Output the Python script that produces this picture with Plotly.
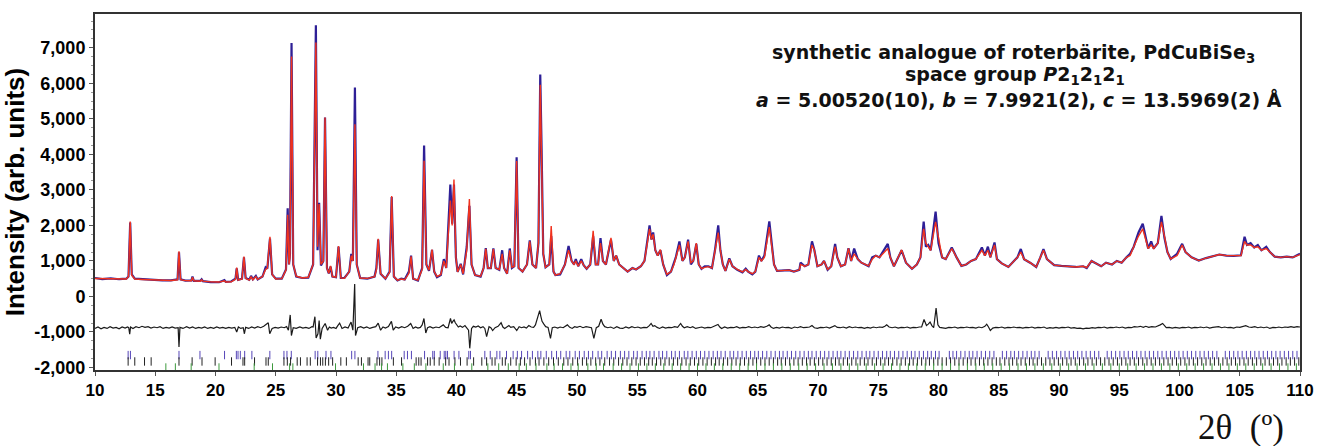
import plotly.graph_objects as go

# ---------------- data ----------------
tth = [10.0, 10.6, 11.3, 12.0, 12.6, 12.78, 12.92, 13.05, 13.3, 14.0, 14.8, 15.6, 16.3, 16.85, 16.97, 17.1,
       17.5, 18.0, 18.09, 18.2, 18.75, 18.85, 18.95, 19.6, 20.3, 20.74, 20.85, 21.3, 21.66, 21.76, 21.88,
       22.2, 22.36, 22.5, 22.8, 22.95, 23.1, 23.35, 23.5, 23.9, 24.16, 24.3, 24.52, 24.7, 25.0, 25.5,
       25.85, 25.99, 26.1, 26.18, 26.31, 26.45, 26.7, 27.2, 27.7, 28.1, 28.33, 28.47, 28.6, 28.75, 28.95,
       29.09, 29.25, 29.4, 29.55, 29.7, 30.0, 30.21, 30.4, 30.7, 31.1, 31.27, 31.4, 31.57, 31.72, 32.0,
       32.6, 33.2, 33.35, 33.5, 33.7, 34.1, 34.45, 34.62, 34.8, 35.1, 35.41, 35.7, 36.05, 36.23, 36.4,
       36.8, 37.15, 37.31, 37.5, 37.72, 37.97, 38.15, 38.38, 38.7, 38.95, 39.15, 39.49, 39.64, 39.79,
       39.95, 40.09, 40.35, 40.55, 40.85, 41.07, 41.25, 41.54, 42.0, 42.25, 42.43, 42.6, 42.85, 43.06,
       43.25, 43.55, 43.79, 43.95, 44.2, 44.42, 44.6, 44.8, 44.99, 45.15, 45.48, 45.85, 46.08, 46.3,
       46.6, 46.8, 46.95, 47.05, 47.2, 47.39, 47.7, 47.86, 48.05, 48.21, 48.6, 49.0, 49.3, 49.55, 49.75,
       49.9, 50.1, 50.35, 50.55, 50.8, 51.1, 51.34, 51.55, 51.75, 51.95, 52.15, 52.4, 52.82, 53.05, 53.25,
       53.5, 54.2, 54.6, 54.9, 55.3, 55.6, 56.02, 56.18, 56.32, 56.5, 56.7, 56.92, 57.15, 57.46, 57.8,
       58.05, 58.2, 58.5, 58.75, 58.95, 59.22, 59.45, 59.65, 59.9, 60.1, 60.33, 60.6, 60.9, 61.2, 61.45,
       61.72, 61.9, 62.1, 62.32, 62.64, 62.9, 63.3, 63.73, 64.0, 64.2, 64.55, 64.8, 65.1, 65.3, 65.55,
       65.96, 66.15, 66.35, 66.6, 67.2, 67.6, 68.0, 68.45, 68.55, 68.9, 69.2, 69.5, 69.7, 69.95, 70.3,
       70.5, 70.8, 71.1, 71.42, 71.6, 71.9, 72.25, 72.53, 72.75, 73.0, 73.3, 73.6, 73.9, 74.2, 74.5,
       74.8, 75.1, 75.4, 75.79, 76.0, 76.3, 76.94, 77.3, 77.8, 78.2, 78.5, 78.77, 78.95, 79.15, 79.35,
       79.76, 80.0, 80.3, 80.6, 81.1, 81.5, 81.9, 82.3, 82.7, 83.1, 83.4, 83.6, 83.85, 84.1, 84.3,
       84.65, 84.85, 85.25, 85.8, 86.3, 86.55, 86.83, 87.1, 87.6, 88.11, 88.45, 88.71, 89.0, 89.6, 90.2,
       90.8, 91.4, 92.0, 92.3, 92.7, 93.0, 93.5, 93.9, 94.4, 94.8, 95.2, 95.6, 95.9, 96.2, 96.6,
       96.95, 97.2, 97.4, 97.65, 97.85, 98.2, 98.5, 98.75, 99.0, 99.27, 99.8, 100.22, 100.5, 101.0,
       101.6, 102.2, 102.8, 103.3, 103.9, 104.5, 105.1, 105.4, 105.6, 105.9, 106.2, 106.5, 106.8,
       107.2, 107.5, 107.9, 108.4, 108.9, 109.4, 110.0]

obs = [520, 490, 510, 485, 500, 560, 2080, 620, 500, 480, 470, 450, 455, 480, 1240, 480,
       445, 450, 560, 440, 440, 480, 430, 405, 400, 460, 410, 420, 500, 790, 470,
       500, 1100, 520, 470, 580, 480, 580, 480, 560, 820, 780, 1630, 620, 500, 500,
       760, 2480, 900, 1200, 7130, 900, 560, 520, 530, 900, 7630, 1300, 2640, 870, 1000,
       5040, 800, 650, 840, 560, 540, 1400, 520, 520, 700, 1200, 1000, 5880, 900, 520,
       500, 560, 800, 1600, 640, 500, 700, 2800, 560, 450, 500, 480, 700, 1150, 500,
       450, 800, 4250, 900, 720, 1310, 700, 540, 600, 1050, 800, 3150, 2050, 3150,
       1100, 690, 920, 620, 1400, 2550, 900, 600, 560, 800, 1360, 800, 800, 1350,
       800, 750, 1300, 800, 640, 1350, 800, 850, 3920, 800, 700, 900, 1580, 900,
       800, 1500, 6250, 4400, 1200, 820, 900, 1700, 700, 600, 620, 900, 1420, 1000, 900,
       1050, 850, 1050, 880, 780, 900, 1700, 900, 900, 1640, 1000, 900, 1600, 1000, 1150,
       900, 700, 800, 760, 850, 1000, 2000, 1600, 1800, 1300, 1150, 1300, 900, 600, 700,
       950, 1100, 1550, 1000, 1100, 1600, 900, 1000, 1480, 900, 775, 850, 850, 800, 1300,
       2000, 1300, 900, 720, 1070, 850, 750, 680, 780, 700, 620, 700, 1150, 1000, 1150,
       2110, 1500, 900, 720, 740, 740, 700, 750, 950, 850, 900, 1550, 1300, 850, 900,
       1000, 750, 850, 1480, 1100, 850, 900, 1360, 1000, 1350, 1050, 950, 900, 850, 1100,
       1150, 1100, 1250, 1480, 1100, 850, 1300, 950, 780, 900, 1100, 2110, 1400, 1450, 1300,
       2390, 1500, 1100, 1050, 1380, 1100, 860, 900, 1000, 1050, 1250, 1380, 1150, 1400, 1100,
       1520, 1050, 930, 830, 1000, 1100, 1335, 1050, 950, 830, 1100, 1335, 1050, 880, 860,
       850, 830, 850, 800, 1000, 950, 850, 950, 900, 1000, 950, 1100, 1200, 1400, 1800,
       2050, 1600, 1350, 1550, 1350, 1500, 2270, 1650, 1250, 1055, 1200, 1480, 1250, 1100,
       1010, 1080, 1140, 1180, 1150, 1140, 1160, 1680, 1450, 1500, 1380, 1450, 1300,
       1400, 1250, 1120, 1100, 1120, 1100, 1200]

calc = [505, 500, 495, 490, 490, 560, 2110, 600, 490, 478, 470, 460, 450, 470, 1270, 470,
        445, 440, 540, 440, 430, 470, 430, 410, 405, 440, 405, 410, 480, 810, 460,
        490, 1120, 510, 460, 560, 470, 560, 480, 560, 760, 800, 1680, 620, 490, 500,
        740, 2300, 900, 1100, 6750, 900, 570, 520, 540, 900, 7150, 1400, 2600, 900, 1000,
        5040, 800, 650, 860, 560, 540, 1420, 520, 510, 700, 1150, 1000, 4850, 900, 520,
        510, 560, 750, 1620, 650, 500, 680, 2830, 560, 460, 490, 470, 650, 1130, 500,
        460, 760, 3820, 900, 740, 1320, 700, 560, 620, 1000, 800, 2700, 2000, 3290,
        1100, 690, 900, 640, 1300, 2740, 900, 600, 570, 800, 1340, 800, 800, 1330,
        800, 760, 1200, 800, 640, 1300, 820, 850, 3810, 800, 700, 900, 1550, 900,
        800, 1500, 5960, 3500, 1200, 820, 900, 1980, 700, 600, 640, 900, 1300, 1000, 900,
        1000, 850, 1000, 880, 780, 900, 1850, 900, 900, 1500, 1000, 900, 1650, 1000, 1150,
        900, 700, 800, 760, 850, 1000, 1900, 1600, 1750, 1300, 1150, 1320, 900, 620, 700,
        900, 1100, 1450, 1000, 1100, 1550, 950, 1000, 1500, 900, 780, 820, 840, 800, 1300,
        1800, 1300, 900, 720, 1050, 850, 760, 690, 760, 700, 640, 700, 1100, 1000, 1100,
        1950, 1500, 900, 720, 740, 740, 700, 750, 900, 850, 900, 1450, 1300, 850, 900,
        1000, 760, 850, 1400, 1100, 850, 900, 1350, 1000, 1200, 1050, 950, 900, 860, 1050,
        1150, 1100, 1200, 1350, 1100, 850, 1310, 950, 780, 900, 1100, 1900, 1500, 1400, 1300,
        2100, 1600, 1100, 1050, 1350, 1100, 860, 900, 1000, 1050, 1200, 1300, 1150, 1300, 1100,
        1450, 1050, 930, 830, 1000, 1100, 1250, 1050, 950, 830, 1100, 1300, 1050, 880, 860,
        850, 830, 850, 810, 1000, 950, 850, 950, 900, 1000, 950, 1100, 1150, 1400, 1700,
        1900, 1600, 1350, 1450, 1350, 1500, 2100, 1700, 1250, 1055, 1150, 1450, 1250, 1100,
        1010, 1080, 1140, 1180, 1150, 1140, 1150, 1550, 1450, 1450, 1380, 1400, 1300,
        1350, 1250, 1120, 1100, 1120, 1100, 1180]

# difference curve (2theta, value) pairs
diff_points = [
    (10.0, -900), (10.25, -860), (10.5, -910), (10.75, -870), (11.0, -900), (11.25, -850), (11.5, -890),
    (11.75, -870), (12.0, -910), (12.25, -860), (12.5, -890), (12.7, -860), (12.8, -880), (12.88, -1060),
    (12.95, -860), (13.15, -900), (13.4, -850), (13.65, -880), (13.9, -840), (14.15, -870), (14.4, -850),
    (14.65, -890), (14.9, -860), (15.15, -880), (15.4, -850), (15.65, -900), (15.9, -870), (16.15, -890),
    (16.4, -860), (16.65, -890), (16.9, -880), (16.97, -1420), (17.05, -870), (17.3, -900), (17.6, -850),
    (17.85, -890), (18.1, -860), (18.35, -900), (18.6, -870), (18.85, -890), (19.1, -860), (19.35, -900),
    (19.6, -870), (19.85, -895), (20.1, -860), (20.35, -890), (20.6, -870), (20.85, -900), (21.1, -870),
    (21.35, -890), (21.6, -870), (21.76, -1000), (21.9, -860), (22.1, -900), (22.3, -880), (22.4, -1050),
    (22.5, -870), (22.75, -900), (23.0, -860), (23.25, -890), (23.5, -850), (23.75, -880), (24.0, -840),
    (24.2, -800), (24.38, -740), (24.5, -1050), (24.7, -900), (24.95, -870), (25.2, -890), (25.45, -860),
    (25.7, -880), (25.9, -850), (26.05, -950), (26.2, -520), (26.3, -1100), (26.45, -880), (26.7, -900),
    (27.0, -860), (27.25, -890), (27.5, -870), (27.75, -900), (28.0, -850), (28.1, -860), (28.25, -570),
    (28.35, -1170), (28.5, -1050), (28.6, -680), (28.7, -1200), (28.85, -900), (29.1, -760), (29.3, -950),
    (29.45, -860), (29.6, -890), (29.8, -870), (30.0, -900), (30.15, -820), (30.3, -750), (30.5, -900),
    (30.75, -860), (31.0, -890), (31.25, -720), (31.4, -950), (31.55, 350), (31.62, -1100), (31.8, -880),
    (32.05, -850), (32.3, -890), (32.55, -860), (32.8, -900), (33.05, -870), (33.3, -850), (33.5, -750),
    (33.7, -950), (33.9, -860), (34.1, -890), (34.35, -850), (34.6, -700), (34.75, -950), (34.95, -860),
    (35.2, -890), (35.45, -850), (35.7, -880), (35.95, -840), (36.2, -760), (36.4, -900), (36.6, -860),
    (36.8, -890), (37.0, -870), (37.15, -800), (37.3, -620), (37.45, -1030), (37.6, -880), (37.8, -850),
    (38.05, -890), (38.3, -860), (38.55, -880), (38.75, -840), (38.9, -800), (39.1, -870), (39.3, -880),
    (39.5, -620), (39.6, -760), (39.7, -700), (39.8, -660), (39.9, -740), (40.0, -800), (40.15, -860),
    (40.3, -830), (40.5, -870), (40.7, -820), (40.85, -880), (41.0, -950), (41.1, -1460), (41.25, -900),
    (41.4, -840), (41.6, -860), (41.8, -830), (42.0, -880), (42.2, -850), (42.35, -900), (42.5, -1130),
    (42.7, -850), (42.85, -880), (43.0, -960), (43.2, -880), (43.45, -840), (43.7, -740), (43.85, -860),
    (44.0, -900), (44.2, -860), (44.35, -820), (44.5, -870), (44.75, -850), (45.0, -960), (45.2, -850),
    (45.4, -880), (45.6, -860), (45.8, -890), (46.0, -820), (46.2, -860), (46.4, -870), (46.55, -800),
    (46.7, -640), (46.9, -400), (47.0, -560), (47.1, -700), (47.25, -780), (47.4, -850), (47.6, -870),
    (47.8, -1180), (47.95, -880), (48.15, -860), (48.4, -890), (48.6, -860), (48.85, -880), (49.05, -840),
    (49.2, -800), (49.4, -870), (49.6, -900), (49.8, -850), (50.0, -870), (50.25, -840), (50.5, -880),
    (50.75, -850), (51.0, -860), (51.2, -880), (51.4, -1180), (51.6, -880), (51.8, -840), (52.0, -640),
    (52.15, -780), (52.3, -850), (52.55, -880), (52.8, -860), (53.05, -900), (53.3, -850), (53.55, -890),
    (53.8, -900), (54.05, -860), (54.3, -890), (54.55, -850), (54.8, -880), (55.05, -860), (55.3, -890),
    (55.55, -870), (55.8, -880), (56.0, -820), (56.15, -760), (56.3, -840), (56.45, -820), (56.65, -870),
    (56.85, -900), (57.1, -860), (57.35, -890), (57.6, -870), (57.85, -880), (58.1, -850), (58.35, -870),
    (58.6, -760), (58.75, -840), (58.9, -880), (59.15, -850), (59.4, -880), (59.6, -850), (59.85, -900),
    (60.1, -880), (60.35, -860), (60.6, -890), (60.85, -870), (61.1, -880), (61.35, -850), (61.55, -820),
    (61.7, -790), (61.85, -860), (62.0, -900), (62.25, -860), (62.5, -890), (62.75, -870), (63.0, -880),
    (63.25, -850), (63.5, -890), (63.75, -870), (64.0, -880), (64.25, -850), (64.5, -880), (64.75, -860),
    (65.0, -880), (65.25, -850), (65.5, -870), (65.75, -840), (65.95, -800), (66.1, -860), (66.3, -900),
    (66.55, -870), (66.8, -890), (67.05, -860), (67.3, -880), (67.55, -870), (67.8, -900), (68.05, -860),
    (68.3, -880), (68.55, -850), (68.8, -880), (69.05, -870), (69.3, -860), (69.5, -820), (69.7, -880),
    (69.95, -900), (70.2, -870), (70.45, -880), (70.7, -860), (70.95, -890), (71.2, -850), (71.4, -820),
    (71.6, -870), (71.85, -880), (72.1, -860), (72.35, -890), (72.6, -850), (72.85, -880), (73.1, -860),
    (73.35, -880), (73.6, -870), (73.85, -900), (74.1, -870), (74.35, -890), (74.6, -860), (74.85, -880),
    (75.1, -860), (75.35, -870), (75.55, -840), (75.7, -800), (75.9, -860), (76.15, -880), (76.4, -860),
    (76.65, -890), (76.9, -870), (77.15, -880), (77.4, -860), (77.65, -890), (77.9, -870), (78.15, -880),
    (78.4, -860), (78.6, -860), (78.8, -650), (79.0, -820), (79.15, -780), (79.3, -720), (79.45, -820),
    (79.6, -880), (79.8, -330), (79.95, -800), (80.1, -870), (80.35, -880), (80.6, -900), (80.85, -870),
    (81.1, -880), (81.35, -860), (81.6, -890), (81.85, -870), (82.1, -880), (82.35, -860), (82.6, -880),
    (82.85, -870), (83.1, -890), (83.35, -860), (83.6, -880), (83.85, -840), (84.0, -780), (84.15, -860),
    (84.3, -960), (84.5, -890), (84.75, -870), (85.0, -880), (85.25, -860), (85.5, -890), (85.75, -870),
    (86.0, -880), (86.25, -860), (86.5, -880), (86.75, -870), (87.0, -890), (87.25, -870), (87.5, -880),
    (87.75, -860), (88.0, -890), (88.25, -870), (88.5, -880), (88.75, -860), (89.0, -900), (89.25, -880),
    (89.5, -890), (89.75, -870), (90.0, -890), (90.25, -870), (90.5, -880), (90.75, -860), (91.0, -890),
    (91.25, -880), (91.5, -900), (91.75, -890), (92.0, -910), (92.25, -890), (92.5, -900), (92.75, -880),
    (93.0, -890), (93.25, -870), (93.5, -880), (93.75, -860), (94.0, -890), (94.25, -870), (94.5, -880),
    (94.75, -860), (95.0, -880), (95.25, -860), (95.5, -890), (95.75, -870), (96.0, -880), (96.25, -850),
    (96.5, -860), (96.75, -840), (97.0, -870), (97.2, -840), (97.45, -870), (97.7, -850), (98.0, -860),
    (98.2, -840), (98.4, -800), (98.6, -760), (98.75, -820), (98.9, -880), (99.15, -870), (99.4, -890),
    (99.65, -870), (100.0, -890), (100.25, -870), (100.5, -880), (100.75, -860), (101.0, -890),
    (101.25, -870), (101.5, -880), (101.75, -860), (102.0, -880), (102.25, -860), (102.5, -890),
    (102.75, -870), (103.0, -870), (103.25, -850), (103.5, -880), (103.75, -860), (104.0, -880),
    (104.25, -870), (104.5, -890), (104.75, -860), (105.0, -870), (105.25, -850), (105.5, -820),
    (105.75, -860), (106.0, -870), (106.25, -850), (106.5, -880), (106.75, -860), (107.0, -880),
    (107.25, -860), (107.5, -900), (107.75, -870), (108.0, -880), (108.25, -860), (108.5, -880),
    (108.75, -860), (109.0, -870), (109.25, -850), (109.5, -870), (109.75, -850), (110.0, -860)]

ticks_phase1 = [12.75, 12.94, 16.97, 18.71, 20.75, 21.73, 21.87, 22.06, 22.42, 23.02, 24.51, 25.68, 25.93,
                26.29, 28.27, 28.49, 29.17, 29.58, 31.30, 31.57, 33.48, 34.08, 34.35, 34.62, 35.66, 35.93,
                36.26, 37.35, 38.03, 38.16, 38.65, 38.98, 39.11, 39.25, 39.8, 40.2, 41.02, 41.16,
                42.35, 42.8, 43.35, 43.6, 44.15, 44.7, 45.05, 45.4, 45.9, 46.3, 46.75, 47.0, 47.45, 47.9,
                48.3, 48.65, 49.1, 49.4, 49.85, 50.2, 50.6, 50.95, 51.3, 51.75, 52.05, 52.5, 52.85, 53.2,
                53.6, 53.95, 54.3, 54.7, 55.0, 55.4, 55.75, 56.05, 56.4, 56.8, 57.1, 57.45, 57.85, 58.15,
                58.5, 58.9, 59.2, 59.55, 59.9, 60.25, 60.6, 60.95, 61.3, 61.65, 61.95, 62.3, 62.7, 63.0,
                63.35, 63.7, 64.05, 64.4, 64.75, 65.05, 65.4, 65.75, 66.1, 66.45, 66.8, 67.1, 67.45, 67.8,
                68.15, 68.5, 68.85, 69.2, 69.5, 69.85, 70.2, 70.55, 70.9, 71.25, 71.6, 71.9, 72.25, 72.6,
                72.95, 73.3, 73.65, 74.0, 74.3, 74.65, 75.0, 75.35, 75.7, 76.0, 76.35, 76.7, 77.05, 77.4,
                77.75, 78.05, 78.4, 78.75, 79.1, 79.4, 79.75, 80.05, 80.9, 81.2, 81.5, 81.85, 82.2, 82.55,
                82.85, 83.2, 83.55, 83.9, 84.25, 84.6, 85.3, 85.65, 86.0, 86.3, 86.65, 87.0, 87.35, 87.7,
                88.0, 88.35, 89.1, 89.45, 89.8, 90.15, 90.5, 90.85, 91.2, 91.55, 91.9, 92.25, 92.6, 92.95,
                93.3, 94.0, 94.35, 94.7, 95.05, 95.4, 95.75, 96.1, 96.45, 96.8, 97.15, 97.5, 97.85, 98.2,
                98.55, 98.9, 99.25, 99.6, 99.95, 100.3, 100.65, 101.0, 101.35, 101.7, 102.05, 102.4,
                102.75, 103.1, 103.8, 104.15, 104.5, 104.85, 105.2, 105.55, 105.9, 106.25, 106.6, 106.95,
                107.3, 107.65, 108.0, 108.35, 108.7, 109.05, 109.4, 109.75]

ticks_phase2 = [12.75, 13.3, 14.11, 14.66, 16.97, 18.06, 18.88, 19.97, 21.33, 22.28, 22.42, 23.24, 24.19,
                24.38, 25.68, 25.96, 26.23, 26.78, 27.05, 27.6, 27.87, 28.47, 28.71, 28.9, 29.12, 29.39,
                29.72, 30.4, 30.86, 31.84, 32.11, 32.66, 32.8, 33.4, 33.62, 33.81, 34.76, 35.44, 36.65,
                36.87, 37.06, 37.6, 37.82, 38.15, 38.56, 39.1, 39.38, 39.87, 40.33, 40.88, 41.42,
                42.1, 42.5, 42.95, 43.2, 43.8, 44.05, 44.5, 44.95, 45.3, 45.65, 46.1, 46.55, 46.85, 47.25,
                47.65, 48.05, 48.45, 48.9, 49.25, 49.65, 50.05, 50.45, 50.8, 51.15, 51.55, 51.9, 52.3, 52.7,
                53.05, 53.45, 53.8, 54.15, 54.55, 54.9, 55.25, 55.6, 55.95, 56.25, 56.6, 56.95, 57.3, 57.65,
                58.0, 58.35, 58.7, 59.05, 59.4, 59.75, 60.1, 60.45, 60.8, 61.15, 61.5, 61.8, 62.15, 62.5,
                62.85, 63.2, 63.55, 63.9, 64.25, 64.6, 64.9, 65.25, 65.6, 65.95, 66.3, 66.65, 66.95, 67.3,
                67.65, 68.0, 68.35, 68.7, 69.05, 69.35, 69.7, 70.05, 70.4, 70.75, 71.1, 71.45, 71.75, 72.1,
                72.45, 72.8, 73.15, 73.5, 73.85, 74.15, 74.5, 74.85, 75.2, 75.55, 75.85, 76.2, 76.55, 76.9,
                77.25, 77.6, 77.9, 78.25, 78.6, 78.95, 79.25, 79.6, 79.95, 80.3, 80.65, 81.0, 81.35, 81.7,
                82.05, 82.4, 82.7, 83.05, 83.4, 83.75, 84.1, 84.45, 84.8, 85.1, 85.5, 85.85, 86.15, 86.5,
                86.85, 87.2, 87.55, 87.85, 88.2, 88.55, 88.9, 89.25, 89.6, 89.95, 90.3, 90.65, 91.0, 91.35,
                91.7, 92.05, 92.4, 92.75, 93.1, 93.45, 93.8, 94.15, 94.5, 94.85, 95.2, 95.55, 95.9, 96.25,
                96.6, 96.95, 97.3, 97.65, 98.0, 98.35, 98.7, 99.05, 99.4, 99.75, 100.1, 100.45, 100.8,
                101.15, 101.5, 101.85, 102.2, 102.55, 102.9, 103.25, 103.6, 103.95, 104.3, 104.65, 105.0,
                105.35, 105.7, 106.05, 106.4, 106.75, 107.1, 107.45, 107.8, 108.15, 108.5, 108.85, 109.2,
                109.55, 109.9]

ticks_phase3 = [15.88, 16.67, 17.98, 20.29, 23.21, 24.73, 26.15, 26.42, 29.96, 32.28, 33.24, 33.78, 34.27,
                35.55, 36.5, 37.46, 38.9, 39.83, 41.27,
                42.6, 43.5, 44.3, 45.2, 45.8, 46.6, 47.5, 48.1, 48.8, 49.5, 50.1, 50.9, 51.6, 52.2, 53.0,
                53.7, 54.4, 55.1, 55.8, 56.5, 57.2, 57.9, 58.6, 59.3, 60.0, 60.7, 61.4, 62.1, 62.8, 63.5,
                64.2, 64.9, 65.6, 66.3, 67.0, 67.7, 68.4, 69.1, 69.8, 70.5, 71.2, 71.9, 72.6, 73.3, 74.0,
                74.7, 75.4, 76.1, 76.8, 77.5, 78.2, 78.9, 79.6, 80.3, 81.0, 81.7, 82.4, 83.1, 83.8, 84.5,
                85.2, 85.9, 86.6, 87.3, 88.0, 88.7, 89.4, 90.1, 90.8, 91.5, 92.2, 92.9, 93.6, 94.3, 95.0,
                95.7, 96.4, 97.1, 97.8, 98.5, 99.2, 99.9, 100.6, 101.3, 102.0, 102.7, 103.4, 104.1, 104.8,
                105.5, 106.2, 106.9, 107.6, 108.3, 109.0, 109.7]

tick_rows = [-1650, -1830, -2000]
x_tickvals = list(range(10, 111, 5))
y_tickvals = [-2000, -1000, 0, 1000, 2000, 3000, 4000, 5000, 6000, 7000]
y_ticktext = ["-2,000", "-1,000", "0", "1,000", "2,000", "3,000", "4,000", "5,000", "6,000", "7,000"]

# ---------------- figure ----------------
diff_x = [p[0] for p in diff_points]
diff_y = [p[1] for p in diff_points]

fig = go.Figure()

fig.add_trace(go.Scatter(x=tth, y=obs, mode="lines",
                         line=dict(color="#2e1f96", width=2.2), name="obs"))
fig.add_trace(go.Scatter(x=tth, y=calc, mode="lines",
                         line=dict(color="#f0321e", width=1.4), name="calc"))
fig.add_trace(go.Scatter(x=diff_x, y=diff_y, mode="lines",
                         line=dict(color="#1a1a1a", width=1.2), name="diff"))

for pos, yv, col in [(ticks_phase1, tick_rows[0], "#5646b8"),
                     (ticks_phase2, tick_rows[1], "#222222"),
                     (ticks_phase3, tick_rows[2], "#3e9a3e")]:
    fig.add_trace(go.Scatter(x=pos, y=[yv] * len(pos), mode="markers",
                             marker=dict(symbol="line-ns-open", size=6, color=col,
                                         line=dict(color=col, width=1)),
                             hoverinfo="skip"))

fig.update_layout(
    width=1326, height=446,
    margin=dict(l=89, r=13, t=12, b=76),
    paper_bgcolor="white", plot_bgcolor="white",
    showlegend=False,
    font=dict(family="Liberation Sans, Arial, sans-serif", color="black"),
)

fig.update_xaxes(range=[10, 110], tickvals=x_tickvals,
                 ticks="outside", ticklen=4, tickcolor="#555",
                 showline=True, linecolor="#333", linewidth=2, mirror=True,
                 showgrid=False, zeroline=False, ticklabeloverflow="allow",
                 tickfont=dict(size=17, family="Liberation Sans, Arial", weight="bold"))
fig.update_yaxes(range=[-2070, 7950], tickvals=y_tickvals, ticktext=y_ticktext,
                 ticks="outside", ticklen=4, tickcolor="#555",
                 minor=dict(dtick=250, ticks="outside", ticklen=2, tickcolor="#999"),
                 showline=True, linecolor="#333", linewidth=2, mirror=True,
                 showgrid=False, zeroline=False,
                 tickfont=dict(size=18, family="Liberation Sans, Arial", weight="bold"),
                 title=dict(text="<b>Intensity (arb. units)</b>",
                            font=dict(size=26, family="Liberation Sans, Arial"),
                            standoff=4))

ann_font = dict(size=19, family="DejaVu Sans, Liberation Sans, Arial", color="#111")
fig.add_annotation(xref="paper", yref="paper", x=(1022 - 89) / 1224, y=(370 - 52) / 358,
                   text="<b>synthetic analogue of roterbärite, PdCuBiSe<sub>3</sub></b>",
                   showarrow=False, font=ann_font, xanchor="center", yanchor="middle")
fig.add_annotation(xref="paper", yref="paper", x=(1023 - 89) / 1224, y=(370 - 74) / 358,
                   text="<b>space group <i>P</i>2<sub>1</sub>2<sub>1</sub>2<sub>1</sub></b>",
                   showarrow=False, font=ann_font, xanchor="center", yanchor="middle")
fig.add_annotation(xref="paper", yref="paper", x=(1028 - 89) / 1224, y=(370 - 98) / 358,
                   text="<b><i>a</i> = 5.00520(10), <i>b</i> = 7.9921(2), <i>c</i> = 13.5969(2) Å</b>",
                   showarrow=False, font=ann_font, xanchor="center", yanchor="middle")
fig.add_annotation(xref="paper", yref="paper", x=(1253 - 89) / 1224, y=(370 - 428) / 358,
                   text="2θ\u00a0\u00a0(º)", showarrow=False,
                   font=dict(size=35, family="Liberation Serif, Times New Roman, serif", color="#111"),
                   xanchor="center", yanchor="middle")

fig.write_html("out.html", config={"displayModeBar": False},
               post_script="document.body.style.margin='0';document.body.style.overflow='hidden';")
